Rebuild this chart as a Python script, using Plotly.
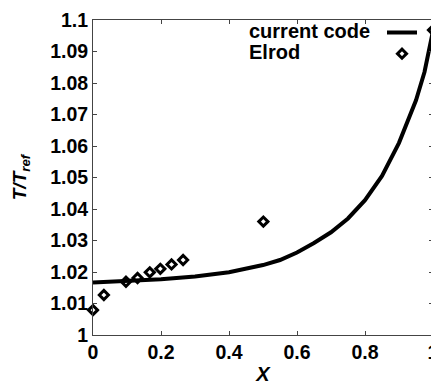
import plotly.graph_objects as go

# current code curve
curve_x = [0.0, 0.1, 0.2, 0.3, 0.4, 0.5, 0.55, 0.6, 0.65, 0.7, 0.75, 0.8, 0.85, 0.9, 0.95, 0.975, 1.0]
curve_y = [1.0167, 1.0171, 1.0177, 1.0186, 1.0199, 1.0222, 1.0238, 1.0262, 1.0292, 1.0326,
           1.0370, 1.0428, 1.0505, 1.0610, 1.0745, 1.0835, 1.0965]

# Elrod data
elrod_x = [0.0, 0.032, 0.097, 0.131, 0.167, 0.198, 0.231, 0.265, 0.501, 1.0]
elrod_y = [1.0079, 1.0127, 1.0169, 1.0181, 1.0199, 1.0210, 1.0224, 1.0238, 1.0360, 1.0968]

legend_names = ["current code", "Elrod"]
x_ticks = [0, 0.2, 0.4, 0.6, 0.8, 1]
x_ticklabels = ["0", "0.2", "0.4", "0.6", "0.8", "1"]
y_ticks = [1.0, 1.01, 1.02, 1.03, 1.04, 1.05, 1.06, 1.07, 1.08, 1.09, 1.1]
y_ticklabels = ["1", "1.01", "1.02", "1.03", "1.04", "1.05", "1.06", "1.07", "1.08", "1.09", "1.1"]

FONT = "Liberation Sans, Arial, sans-serif"

fig = go.Figure()
fig.add_trace(go.Scatter(x=curve_x, y=curve_y, mode="lines", name=" ",
                         line=dict(color="black", width=4), cliponaxis=False))
fig.add_trace(go.Scatter(x=elrod_x, y=elrod_y, mode="markers", name=" ",
                         marker=dict(symbol="diamond-open", size=7, color="black",
                                     line=dict(width=3, color="black")),
                         cliponaxis=False))

axis_common = dict(ticks="inside", ticklen=4, tickcolor="#444", showgrid=False,
                   zeroline=False, showline=True, linecolor="#444", linewidth=1,
                   mirror="ticks", automargin=False,
                   tickfont=dict(size=19.5, family=FONT, weight="bold"))

# page body has an 8px margin: figure is sized/margined to compensate
fig.update_layout(
    width=431, height=377,
    margin=dict(l=85, r=6, t=12, b=50),
    paper_bgcolor="white", plot_bgcolor="white",
    font=dict(family=FONT, size=19, color="black"),
    showlegend=True,
    legend=dict(x=0.85, y=1.01, xanchor="left", yanchor="top",
                bgcolor="rgba(0,0,0,0)", font=dict(size=14),
                tracegroupgap=0, itemwidth=30),
    xaxis=dict(range=[0, 1], tickvals=x_ticks, ticktext=x_ticklabels,
               title=dict(text="<b><i>X</i></b>", font=dict(size=20, weight=700), standoff=6),
               **axis_common),
    yaxis=dict(range=[1.0, 1.1], tickvals=y_ticks, ticktext=y_ticklabels,
               title=dict(text="<b><i>T/T<sub>ref</sub></i></b>", font=dict(size=19, weight=700), standoff=18),
               **axis_common),
)

for name, ypos in zip(legend_names, [0.965, 0.898]):
    fig.add_annotation(x=0.453, y=ypos, xref="paper", yref="paper", xanchor="left",
                       yanchor="middle", showarrow=False, text="<b>" + name + "</b>",
                       font=dict(size=20, family=FONT, weight=700))

fig.write_html("out.html")
